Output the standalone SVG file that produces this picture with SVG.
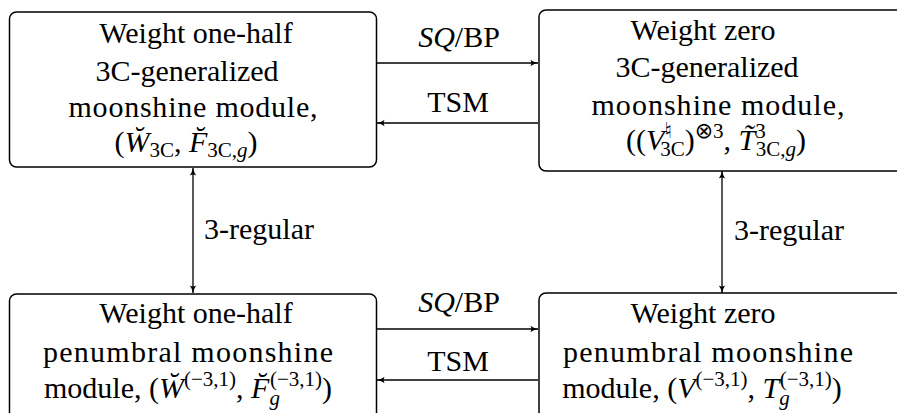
<svg xmlns="http://www.w3.org/2000/svg" width="897" height="413" viewBox="0 0 897 413">
<style>
.box{fill:#fff;stroke:#000;stroke-width:1.5}
.t{font-family:'Liberation Serif','Times New Roman',Tinos,'DejaVu Serif','Noto Serif',serif;font-size:30px;fill:#000;text-anchor:middle}
.i{font-style:italic}
.s{font-size:21px}
.sym{font-family:'DejaVu Sans','DejaVu Serif',serif;font-size:22px}
.c{stroke:#000;stroke-width:1.3;fill:none}
</style>
<defs>
<marker id="ah" viewBox="0 0 10 10" refX="9.5" refY="5" markerWidth="8" markerHeight="8" markerUnits="userSpaceOnUse" orient="auto-start-reverse">
<path d="M0,1 Q4,4 10,5 Q4,6 0,9 Q2.5,5 0,1 Z" fill="#000"/>
</marker>
</defs>
<rect width="897" height="413" fill="#fff"/>

<g id="connectors">
<line class="c" x1="377" y1="63" x2="538" y2="63" marker-end="url(#ah)"/>
<line class="c" x1="538" y1="123" x2="377" y2="123" marker-end="url(#ah)"/>
<line class="c" x1="377" y1="329" x2="538" y2="329" marker-end="url(#ah)"/>
<line class="c" x1="538" y1="380" x2="377" y2="380" marker-end="url(#ah)"/>
<line class="c" x1="193" y1="168" x2="193" y2="293" marker-start="url(#ah)" marker-end="url(#ah)"/>
<line class="c" x1="722" y1="171" x2="722" y2="293" marker-start="url(#ah)" marker-end="url(#ah)"/>
<text class="t" x="459" y="47"><tspan class="i">SQ</tspan>/BP</text>
<text class="t" x="458" y="112">TSM</text>
<text class="t" x="459" y="312"><tspan class="i">SQ</tspan>/BP</text>
<text class="t" x="458" y="371">TSM</text>
<text class="t" x="259" y="239">3-regular</text>
<text class="t" x="789" y="240">3-regular</text>
</g>

<g id="node-tl">
<rect class="box" x="9.5" y="12" width="367" height="155" rx="7"/>
<text class="t" x="196" y="43">Weight one-half</text>
<text class="t" x="187" y="81">3C-generalized</text>
<text class="t" x="193" y="117" textLength="249" lengthAdjust="spacing">moonshine module,</text>
<text class="t" x="186" y="152">(<tspan class="i">W̆</tspan><tspan class="s" dy="5">3C</tspan><tspan dy="-5">, </tspan><tspan class="i">F̆</tspan><tspan class="s" dy="5">3C,<tspan class="i">g</tspan></tspan><tspan dy="-5">)</tspan></text>
</g>

<g id="node-tr">
<rect class="box" x="539" y="10" width="400" height="161" rx="7"/>
<text class="t" x="703" y="40">Weight zero</text>
<text class="t" x="707" y="77">3C-generalized</text>
<text class="t" x="718" y="115" textLength="253" lengthAdjust="spacing">moonshine module,</text>
<text class="t" x="716" y="150">((<tspan class="i">V</tspan><tspan class="sym" dy="-12">♮</tspan><tspan class="s" dx="-12" dy="18">3C</tspan><tspan dy="-6">)</tspan><tspan class="s" dy="-12"><tspan class="sym">⊗</tspan>3</tspan><tspan dy="12">, </tspan><tspan class="i">T̃</tspan><tspan class="s" dy="-12">3</tspan><tspan class="s" dx="-10" dy="18">3C,<tspan class="i">g</tspan></tspan><tspan dy="-6">)</tspan></text>
</g>

<g id="node-bl">
<rect class="box" x="9.5" y="294" width="367" height="140" rx="7"/>
<text class="t" x="196" y="323">Weight one-half</text>
<text class="t" x="188" y="362" textLength="290" lengthAdjust="spacing">penumbral moonshine</text>
<text class="t" x="188" y="398">module, (<tspan class="i">W̆</tspan><tspan class="s" dy="-12">(−3,1)</tspan><tspan dy="12">, </tspan><tspan class="i">F̆</tspan><tspan class="s i" dy="7">g</tspan><tspan class="s" dx="-10" dy="-19">(−3,1)</tspan><tspan dy="12">)</tspan></text>
</g>

<g id="node-br">
<rect class="box" x="539" y="293" width="400" height="140" rx="7"/>
<text class="t" x="703" y="323">Weight zero</text>
<text class="t" x="708" y="362" textLength="290" lengthAdjust="spacing">penumbral moonshine</text>
<text class="t" x="702" y="398">module, (<tspan class="i">V</tspan><tspan class="s" dy="-12">(−3,1)</tspan><tspan dy="12">, </tspan><tspan class="i">T</tspan><tspan class="s i" dy="7">g</tspan><tspan class="s" dx="-10" dy="-19">(−3,1)</tspan><tspan dy="12">)</tspan></text>
</g>
</svg>
